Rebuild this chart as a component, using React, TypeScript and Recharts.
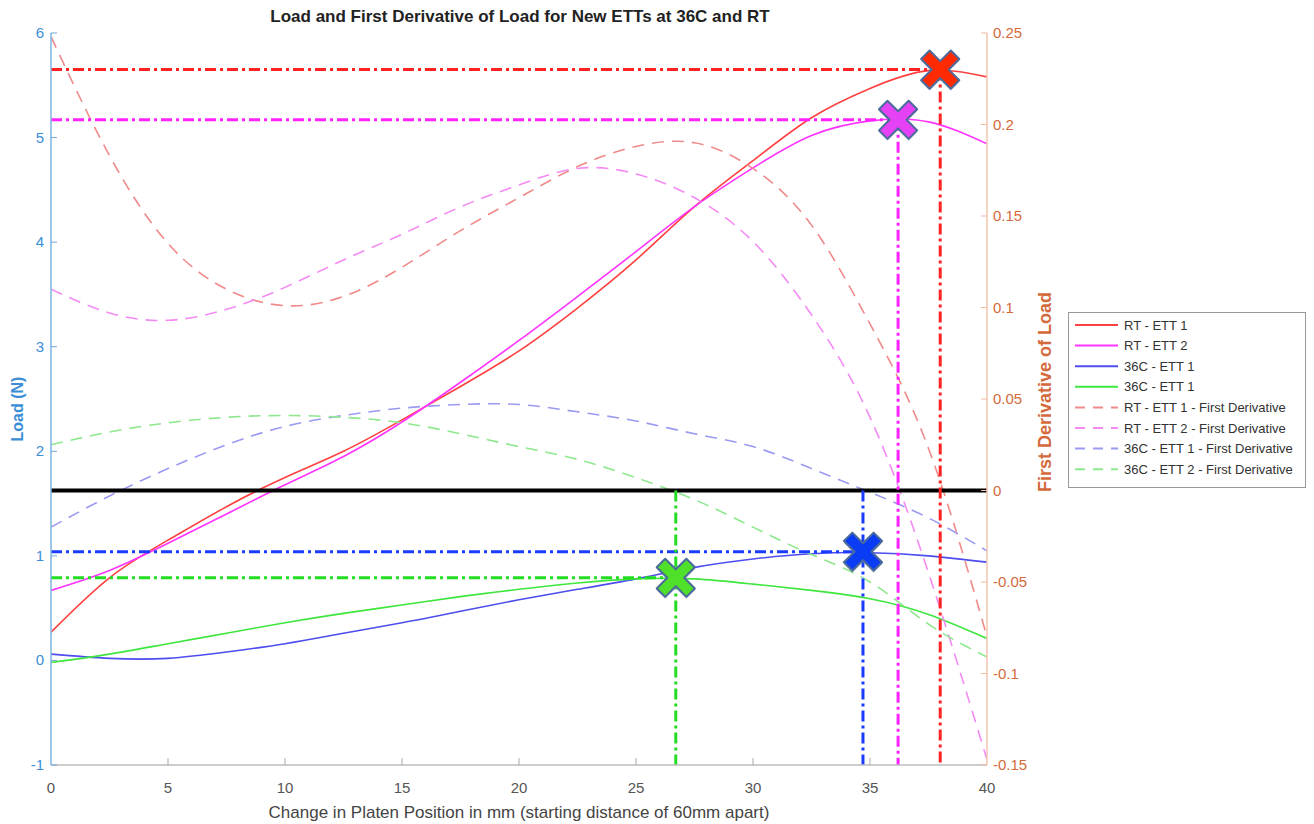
import React from "react";
import {
  ComposedChart,
  Line,
  ReferenceDot,
  ReferenceLine,
  XAxis,
  YAxis,
} from "recharts";

const FONT = '"Liberation Sans", Arial, Helvetica, sans-serif';

// platen position (mm)
const POSITIONS = [0, 2.5, 5, 7.5, 10, 12.5, 15, 17.5, 20, 22.5, 25, 27.5, 30, 32.5, 35, 37.5, 40];

// load (N), left axis
const RT_ETT1 = [0.27, 0.79, 1.15, 1.47, 1.75, 2.0, 2.3, 2.62, 2.96, 3.37, 3.83, 4.34, 4.78, 5.19, 5.47, 5.64, 5.58];
const RT_ETT2 = [0.67, 0.86, 1.12, 1.4, 1.68, 1.95, 2.28, 2.66, 3.06, 3.48, 3.91, 4.34, 4.71, 5.02, 5.16, 5.15, 4.94];
const C36_ETT1 = [0.06, 0.02, 0.02, 0.08, 0.16, 0.26, 0.36, 0.47, 0.58, 0.68, 0.78, 0.89, 0.97, 1.02, 1.03, 1.0, 0.94];
const C36_ETT2 = [-0.02, 0.06, 0.16, 0.26, 0.36, 0.45, 0.53, 0.61, 0.68, 0.74, 0.78, 0.78, 0.73, 0.67, 0.59, 0.44, 0.21];

// first derivative of load, right axis
const D_RT_ETT1 = [0.248, 0.183, 0.135, 0.11, 0.101, 0.106, 0.122, 0.142, 0.16, 0.177, 0.188, 0.19, 0.176, 0.145, 0.091, 0.023, -0.08];
const D_RT_ETT2 = [0.11, 0.097, 0.093, 0.099, 0.111, 0.126, 0.14, 0.155, 0.167, 0.176, 0.173, 0.16, 0.136, 0.096, 0.04, -0.045, -0.147];
const D_C36_ETT1 = [-0.02, -0.003, 0.012, 0.025, 0.035, 0.041, 0.045, 0.047, 0.047, 0.043, 0.038, 0.031, 0.024, 0.012, -0.001, -0.015, -0.033];
const D_C36_ETT2 = [0.025, 0.032, 0.037, 0.04, 0.041, 0.04, 0.037, 0.031, 0.024, 0.017, 0.007, -0.005, -0.02, -0.035, -0.05, -0.073, -0.091];

// peak markers (position, load) and where their vertical guide starts
const PEAK_NAMES = ["RT - ETT 1", "RT - ETT 2", "36C - ETT 1", "36C - ETT 2"];
const PEAK_X = [38.0, 36.2, 34.7, 26.7];
const PEAK_LOAD = [5.65, 5.17, 1.04, 0.79];
const GUIDE_TOP = [5.65, 5.17, 1.625, 1.625];
const PEAK_FILL = ["#ff2a00", "#e642f5", "#0a3cf5", "#4fe02a"];
const GUIDE_COLOR = ["#ff2222", "#ff22ff", "#1a3cff", "#22dd22"];

const X_TICKS = [0, 5, 10, 15, 20, 25, 30, 35, 40];
const LOAD_TICKS = [-1, 0, 1, 2, 3, 4, 5, 6];
const DERIV_TICKS = [-0.15, -0.1, -0.05, 0, 0.05, 0.1, 0.15, 0.2, 0.25];

const SERIES = [
  { key: "rt1", name: "RT - ETT 1", values: RT_ETT1, axis: "left", color: "#ff4040", dash: undefined },
  { key: "rt2", name: "RT - ETT 2", values: RT_ETT2, axis: "left", color: "#ff33ff", dash: undefined },
  { key: "c1", name: "36C - ETT 1", values: C36_ETT1, axis: "left", color: "#4d4df0", dash: undefined },
  { key: "c2", name: "36C - ETT 1", values: C36_ETT2, axis: "left", color: "#3ee63e", dash: undefined },
  { key: "drt1", name: "RT - ETT 1 - First Derivative", values: D_RT_ETT1, axis: "right", color: "#f08a8a", dash: "12 8" },
  { key: "drt2", name: "RT - ETT 2 - First Derivative", values: D_RT_ETT2, axis: "right", color: "#f48af4", dash: "12 8" },
  { key: "dc1", name: "36C - ETT 1 - First Derivative", values: D_C36_ETT1, axis: "right", color: "#9a9af2", dash: "12 8" },
  { key: "dc2", name: "36C - ETT 2 - First Derivative", values: D_C36_ETT2, axis: "right", color: "#8ee88e", dash: "12 8" },
];

const rows = POSITIONS.map((x, i) => {
  const row: Record<string, number> = { x };
  for (const s of SERIES) row[s.key] = s.values[i];
  return row;
});

const DASH_DOT = "11 4 3 4";

function XTick({ x, y, payload }: any) {
  const v = payload.value;
  return (
    <g>
      {v !== 0 && v !== 40 && (
        <line x1={x} x2={x} y1={y} y2={y - 7} stroke="#a8a8a8" />
      )}
      <text x={x} y={y + 28} textAnchor="middle" fill="#555" fontSize={15} fontFamily={FONT}>
        {v}
      </text>
    </g>
  );
}

function LoadTick({ x, y, payload }: any) {
  return (
    <g>
      <line x1={x} x2={x + 6} y1={y} y2={y} stroke="#6fa8dc" />
      <text x={x - 7} y={y + 5} textAnchor="end" fill="#3b8ed6" fontSize={15} fontFamily={FONT}>
        {payload.value}
      </text>
    </g>
  );
}

function DerivTick({ x, y, payload }: any) {
  return (
    <g>
      <line x1={x} x2={x - 6} y1={y} y2={y} stroke="#f0b9a2" />
      <text x={x + 6} y={y + 5} textAnchor="start" fill="#d46a3c" fontSize={15} fontFamily={FONT}>
        {String(payload.value)}
      </text>
    </g>
  );
}

function XMark({ cx, cy, fill }: { cx: number; cy: number; fill: string }) {
  const s = 21;
  const t = 6;
  const d = `M${-t},${-s} L${t},${-s} L${t},${-t} L${s},${-t} L${s},${t} L${t},${t} L${t},${s} L${-t},${s} L${-t},${t} L${-s},${t} L${-s},${-t} L${-t},${-t} Z`;
  return (
    <g transform={`translate(${cx},${cy}) rotate(45)`}>
      <path d={d} fill="#9aa8c0" opacity={0.45} transform="translate(1.5,1.5)" />
      <path d={d} fill={fill} stroke="#4b6a9c" strokeWidth={2} strokeLinejoin="round" />
    </g>
  );
}

function Legend() {
  const rowH = 20.6;
  return (
    <div
      style={{
        position: "absolute",
        left: 1068,
        top: 312,
        width: 238,
        height: 176,
        border: "1px solid #999",
        background: "#fff",
        boxSizing: "border-box",
      }}
    >
      <svg width={236} height={174}>
        {SERIES.map((s, i) => {
          const y = 12 + i * rowH;
          return (
            <g key={s.key}>
              <line
                x1={6}
                x2={49}
                y1={y}
                y2={y}
                stroke={s.color}
                strokeWidth={2}
                strokeDasharray={s.dash ? "10 8" : undefined}
              />
              <text x={55} y={y + 4.5} fontSize={13} fill="#333" fontFamily={FONT}>
                {s.name}
              </text>
            </g>
          );
        })}
      </svg>
    </div>
  );
}

export default function App() {
  return (
    <div
      style={{
        position: "absolute",
        left: 0,
        top: 0,
        width: 1314,
        height: 824,
        background: "#fff",
        fontFamily: FONT,
      }}
    >
      <div
        style={{
          position: "absolute",
          left: 0,
          top: 7,
          width: 1040,
          textAlign: "center",
          fontSize: 17,
          lineHeight: "20px",
          fontWeight: "bold",
          color: "#222",
        }}
      >
        Load and First Derivative of Load for New ETTs at 36C and RT
      </div>
      <ComposedChart
        width={1314}
        height={824}
        data={rows}
        margin={{ top: 33, right: 267, bottom: 29, left: 0 }}
      >
        <XAxis
          dataKey="x"
          type="number"
          domain={[0, 40]}
          ticks={X_TICKS}
          interval={0}
          allowDataOverflow
          stroke="#bdbdbd"
          strokeWidth={1.5}
          tickLine={false}
          tickSize={0}
          tickMargin={0}
          height={30}
          tick={<XTick />}
          label={(p: any) => {
            const vb = p.viewBox;
            return (
              <text
                x={vb.x + vb.width / 2}
                y={818}
                textAnchor="middle"
                fill="#444"
                fontSize={17}
                fontFamily={FONT}
              >
                Change in Platen Position in mm (starting distance of 60mm apart)
              </text>
            );
          }}
        />
        <YAxis
          yAxisId="left"
          orientation="left"
          type="number"
          domain={[-1, 6]}
          ticks={LOAD_TICKS}
          interval={0}
          allowDataOverflow
          width={51}
          stroke="#7db3e0"
          strokeWidth={1.5}
          tickLine={false}
          tickSize={0}
          tickMargin={0}
          tick={<LoadTick />}
          label={(p: any) => {
            const vb = p.viewBox;
            const cy = vb.y + vb.height / 2 + 10;
            return (
              <text
                x={23}
                y={cy}
                transform={`rotate(-90, 23, ${cy})`}
                textAnchor="middle"
                fill="#3b8ed6"
                fontSize={16}
                fontWeight="bold"
                fontFamily={FONT}
              >
                Load (N)
              </text>
            );
          }}
        />
        <YAxis
          yAxisId="right"
          orientation="right"
          type="number"
          domain={[-0.15, 0.25]}
          ticks={DERIV_TICKS}
          interval={0}
          allowDataOverflow
          width={60}
          stroke="#f3c4ae"
          strokeWidth={1.5}
          tickLine={false}
          tickSize={0}
          tickMargin={0}
          tick={<DerivTick />}
          label={(p: any) => {
            const vb = p.viewBox;
            const cy = vb.y + vb.height / 2 - 7;
            return (
              <text
                x={1051}
                y={cy}
                transform={`rotate(-90, 1051, ${cy})`}
                textAnchor="middle"
                fill="#d4693c"
                fontSize={18}
                fontWeight="bold"
                fontFamily={FONT}
              >
                First Derivative of Load
              </text>
            );
          }}
        />

        {SERIES.map((s) => (
          <Line
            key={s.key}
            yAxisId={s.axis}
            type="natural"
            dataKey={s.key}
            name={s.name}
            stroke={s.color}
            strokeWidth={1.6}
            strokeDasharray={s.dash}
            dot={false}
            activeDot={false}
            isAnimationActive={false}
          />
        ))}

        <ReferenceLine yAxisId="right" y={0} stroke="#000" strokeWidth={4} />

        {PEAK_X.map((px, i) => (
          <ReferenceLine
            key={`h-${PEAK_NAMES[i]}`}
            yAxisId="left"
            segment={[
              { x: 0, y: PEAK_LOAD[i] },
              { x: px, y: PEAK_LOAD[i] },
            ]}
            stroke={GUIDE_COLOR[i]}
            strokeWidth={3}
            strokeDasharray={DASH_DOT}
          />
        ))}
        {PEAK_X.map((px, i) => (
          <ReferenceLine
            key={`v-${PEAK_NAMES[i]}`}
            yAxisId="left"
            segment={[
              { x: px, y: GUIDE_TOP[i] },
              { x: px, y: -1 },
            ]}
            stroke={GUIDE_COLOR[i]}
            strokeWidth={3}
            strokeDasharray={DASH_DOT}
          />
        ))}
        {PEAK_X.map((px, i) => (
          <ReferenceDot
            key={`m-${PEAK_NAMES[i]}`}
            yAxisId="left"
            x={px}
            y={PEAK_LOAD[i]}
            shape={(p: any) => <XMark cx={p.cx} cy={p.cy} fill={PEAK_FILL[i]} />}
          />
        ))}
      </ComposedChart>
      <Legend />
    </div>
  );
}
